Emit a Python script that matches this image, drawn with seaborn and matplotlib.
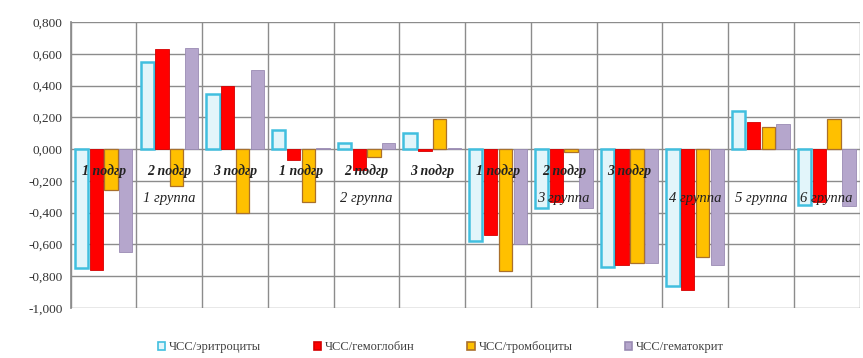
import matplotlib
matplotlib.use("Agg")
import matplotlib.pyplot as plt
from matplotlib.patches import Patch
from matplotlib.ticker import FuncFormatter
import seaborn as sns
import pandas as pd
import numpy as np

# Subgroup / group labels for the two-level category axis
subgroups = ["1 подгр", "2 подгр", "3 подгр",
             "1 подгр", "2 подгр", "3 подгр",
             "1 подгр", "2 подгр", "3 подгр",
             "", "", ""]
groups = ["1 группа", "2 группа", "3 группа", "4 группа", "5 группа", "6 группа"]
group_spans = [(0, 2), (3, 5), (6, 8), (9, 9), (10, 10), (11, 11)]

series = ["ЧСС/эритроциты", "ЧСС/гемоглобин", "ЧСС/тромбоциты", "ЧСС/гематокрит"]

erythro = [-0.75, 0.55, 0.35, 0.12, 0.04, 0.10, -0.58, -0.37, -0.74, -0.86, 0.24, -0.35]
hemoglobin = [-0.76, 0.63, 0.40, -0.07, -0.13, -0.01, -0.54, -0.33, -0.73, -0.89, 0.17, -0.33]
thrombo = [-0.26, -0.23, -0.40, -0.33, -0.05, 0.19, -0.77, -0.02, -0.72, -0.68, 0.14, 0.19]
hematocrit = [-0.65, 0.64, 0.50, 0.01, 0.04, 0.01, -0.60, -0.37, -0.72, -0.73, 0.16, -0.36]

face_colors = ["#e2f5fa", "#ff0000", "#ffc000", "#b5a6cc"]
edge_colors = ["#41bfdf", "#d40000", "#a9702c", "#9a8bb3"]
edge_widths = [1.8, 0.6, 0.9, 0.6]

n = len(erythro)
cat_ids = [f"c{i}" for i in range(n)]
df = pd.DataFrame({
    "cat": cat_ids * 4,
    "series": np.repeat(series, n),
    "value": erythro + hemoglobin + thrombo + hematocrit,
})

sns.set_theme(style="white")
plt.rcParams["font.family"] = ["Liberation Serif", "DejaVu Serif"]

fig = plt.figure(figsize=(8.63, 3.58), dpi=100)
ax = fig.add_axes([0.082, 0.14, 0.914, 0.798])

sns.barplot(data=df, x="cat", y="value", hue="series", order=cat_ids,
            hue_order=series, palette=face_colors, width=0.9, gap=0.1,
            saturation=1, legend=False, ax=ax, zorder=3)

for cont, ec, lw in zip(ax.containers, edge_colors, edge_widths):
    for bar in cont:
        bar.set_edgecolor(ec)
        bar.set_linewidth(lw)

ax.set_ylim(-1.0, 0.8)
ax.set_xlim(-0.5, n - 0.5)
ax.set_yticks(np.arange(-1.0, 0.81, 0.2))
ax.yaxis.set_major_formatter(FuncFormatter(lambda v, p: f"{v:.3f}".replace(".", ",").replace("-0,000", "0,000")))
ax.tick_params(axis="y", labelsize=9.5, colors="#333333", length=0, pad=6)
ax.set_xticks([])
ax.set_xlabel("")
ax.set_ylabel("")

# Horizontal and vertical grid
for yv in np.arange(-1.0, 0.81, 0.2):
    ax.axhline(yv, color="#8c8c8c", lw=1.0, zorder=1)
for xv in np.arange(-0.5, n, 1.0):
    ax.axvline(xv, color="#8c8c8c", lw=1.0, zorder=1)

for s in ["top", "right", "bottom"]:
    ax.spines[s].set_visible(False)
ax.spines["left"].set_color("#8c8c8c")

# Two-level category labels drawn inside the plot
for i, lab in enumerate(subgroups):
    if lab:
        ax.text(i, -0.14, lab, ha="center", va="center", fontsize=10,
                style="italic", weight="bold", color="#222222", zorder=5)
for lab, (a, b) in zip(groups, group_spans):
    ax.text((a + b) / 2, -0.31, lab, ha="center", va="center", fontsize=10.5,
            style="italic", color="#222222", zorder=5)

handles = [Patch(facecolor=fc, edgecolor=ec, linewidth=1.2)
           for fc, ec in zip(face_colors, edge_colors)]
leg = fig.legend(handles, series, loc="center", bbox_to_anchor=(0.511, 0.03), ncol=4,
                 frameon=False, fontsize=9, handlelength=0.6, handleheight=0.6,
                 handletextpad=0.3, columnspacing=4.2)
for t in leg.get_texts():
    t.set_color("#404040")

fig.savefig("out.png", dpi=100, facecolor="white")
